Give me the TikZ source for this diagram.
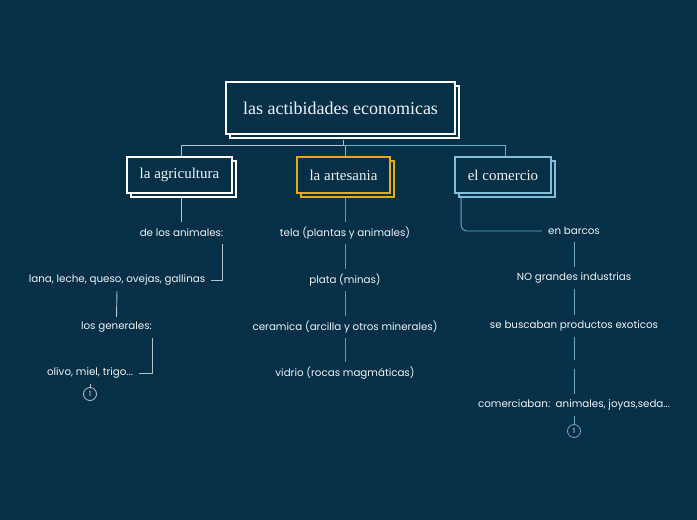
\documentclass[tikz,border=0pt]{standalone}
\usepackage{fontspec}
\setmainfont{Liberation Serif}
\newfontfamily\kidfont{Poppins}
\usetikzlibrary{shadows}
\definecolor{bg}{RGB}{6,48,71}
\definecolor{txt}{RGB}{240,243,245}
\definecolor{grayl}{RGB}{185,196,202}
\definecolor{goldc}{RGB}{232,170,24}
\definecolor{goldl}{RGB}{170,140,50}
\definecolor{bluec}{RGB}{130,190,220}
\definecolor{bluel}{RGB}{110,170,200}
\begin{document}
\begin{tikzpicture}[x=1pt,y=-1pt,
  topbox/.style={draw=#1, line width=1.8pt, fill=bg, text=txt, inner sep=0pt,
     copy shadow={shadow xshift=4pt, shadow yshift=-4pt}},
  kid/.style={font=\kidfont\fontsize{10.3}{12}\selectfont, text=txt, inner xsep=6pt, inner ysep=0pt, minimum height=22pt},
  grayline/.style={draw=grayl, line width=0.9pt},
  goldline/.style={draw=goldl, line width=0.9pt},
  blueline/.style={draw=bluel, line width=0.9pt},
  numc/.style={circle, draw=#1, line width=0.8pt, minimum size=13pt, inner sep=0pt, text=txt, font=\kidfont\fontsize{7}{7}\selectfont}
]
\fill[bg] (0,0) rectangle (697,520);
\path[use as bounding box] (0,0) rectangle (697,520);

% main boxes
\node[topbox=white, minimum width=229pt, minimum height=52pt, font=\fontsize{18}{20}\selectfont] (root) at (340.5,108) {las actibidades economicas};
\node[topbox=white, minimum width=105pt, minimum height=36pt, font=\fontsize{15}{17}\selectfont] (agri) at (179.5,175) {la agricultura};
\node[topbox=goldc, minimum width=93pt, minimum height=36pt, font=\fontsize{15}{17}\selectfont] (art) at (343.5,175) {la artesania};
\node[topbox=bluec, minimum width=96pt, minimum height=36pt, font=\fontsize{15}{17}\selectfont] (com) at (503,175) {el comercio};

% top connectors
\coordinate (jn) at (343,145);
\draw[grayline] ([yshift=-5pt]root.south -| jn) -- (jn);
\draw[grayline] (jn) -| ([xshift=2pt]agri.north);
\draw[blueline] (jn) -| ([xshift=2pt]com.north);
\draw[draw=goldc, line width=1.2pt] ([xshift=2pt]art.north |- jn) -- ([xshift=2pt]art.north);

% agricultura branch
\node[kid] (ani) at (181.5,233) {de los animales:};
\node[kid] (lana) at (117,280) {lana, leche, queso, ovejas, gallinas};
\node[kid] (gen) at (116.5,327) {los generales:};
\node[kid] (oli) at (90,373) {olivo, miel, trigo...};
\node[numc=grayl] (n1) at (90,394) {1};
\draw[grayline] ([xshift=2pt,yshift=-4pt]agri.south) -- (ani.north);
\draw[grayline] ([xshift=-7pt]ani.south east) |- (lana.east);
\draw[grayline] (lana.south) -- ([yshift=-1pt]gen.north);
\draw[grayline] ([xshift=-6pt]gen.south east) |- (oli.east);
\draw[grayline] (oli.south) -- (n1.north);

% artesania branch
\node[kid] (tela) at (345,233) {tela (plantas y animales)};
\node[kid] (plata) at (345,280) {plata (minas)};
\node[kid] (cera) at (345,327) {ceramica (arcilla y otros minerales)};
\node[kid] (vid) at (345,373) {vidrio (rocas magmáticas)};
\draw[goldline] ([xshift=1.5pt,yshift=-4pt]art.south) -- (tela.north);
\draw[goldline] (tela.south) -- (plata.north);
\draw[goldline] (plata.south) -- (cera.north);
\draw[goldline] (cera.south) -- (vid.north);

% comercio branch
\node[kid] (barc) at (574,231) {en barcos};
\node[kid] (nog) at (574,278) {NO grandes industrias};
\node[kid] (busc) at (574,326) {se buscaban productos exoticos};
\node[inner sep=0pt, minimum height=8pt, minimum width=0pt] (hid) at (574,364.5) {};
\node[kid] (comc) at (574,405) {comerciaban:\ \ animales, joyas,seda...};
\node[numc=bluel] (n2) at (574,431) {1};
\draw[blueline, rounded corners=6pt] ([xshift=7pt,yshift=-4pt]com.south west) |- (barc.west);
\draw[blueline] (barc.south) -- (nog.north);
\draw[blueline] (nog.south) -- (busc.north);
\draw[blueline] (busc.south) -- (hid.north);
\draw[blueline] (hid.south) -- (comc.north);
\draw[blueline] (comc.south) -- (n2.north);
\end{tikzpicture}
\end{document}
